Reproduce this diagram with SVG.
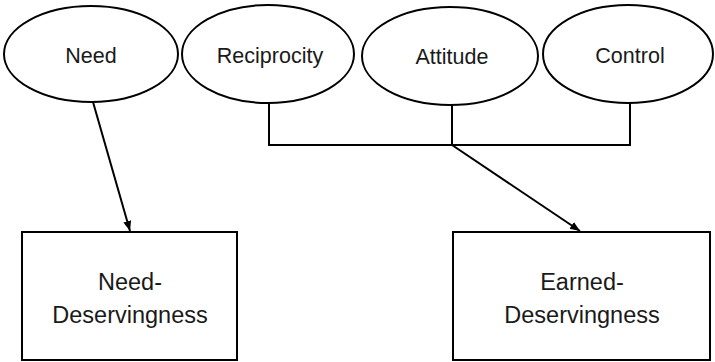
<svg xmlns="http://www.w3.org/2000/svg" width="715" height="362" viewBox="0 0 715 362">
<style>
.n{fill:#fff;stroke:#000;stroke-width:2}
.t{font-family:"Liberation Sans",Arial,sans-serif;fill:#1a1a1a;text-anchor:middle}
.e{font-size:21.5px}
.b{font-size:23.5px}
.c{fill:none;stroke:#000;stroke-width:2}
</style>
<defs>
<marker id="ah" viewBox="0 0 10 10" refX="10" refY="5" markerWidth="5" markerHeight="5" orient="auto" markerUnits="strokeWidth">
<path d="M0,1 L10,5 L0,9 z" fill="#000"/>
</marker>
</defs>
<rect width="715" height="362" fill="#fff"/>
<g id="need"><ellipse class="n" cx="91" cy="54" rx="87" ry="48"/><text class="t e" x="91" y="63">Need</text></g>
<g id="reciprocity"><ellipse class="n" cx="268" cy="54" rx="86" ry="49"/><text class="t e" x="270" y="63">Reciprocity</text></g>
<g id="attitude"><ellipse class="n" cx="450" cy="56" rx="88" ry="49"/><text class="t e" x="452" y="64">Attitude</text></g>
<g id="control"><ellipse class="n" cx="628" cy="54" rx="85" ry="49"/><text class="t e" x="630" y="63">Control</text></g>
<g id="need-deservingness"><rect class="n" x="22" y="232" width="215" height="128"/><text class="t b" x="130" y="290">Need-</text><text class="t b" x="130" y="323">Deservingness</text></g>
<g id="earned-deservingness"><rect class="n" x="453" y="232" width="257" height="128"/><text class="t b" x="582" y="290">Earned-</text><text class="t b" x="582" y="323">Deservingness</text></g>
<g id="connectors">
<line class="c" x1="93" y1="102" x2="130" y2="231" marker-end="url(#ah)"/>
<polyline class="c" points="269,103 269,145 630,145 630,103"/>
<line class="c" x1="452" y1="105" x2="452" y2="145"/>
<line class="c" x1="452" y1="145" x2="580" y2="231" marker-end="url(#ah)"/>
</g>
</svg>
